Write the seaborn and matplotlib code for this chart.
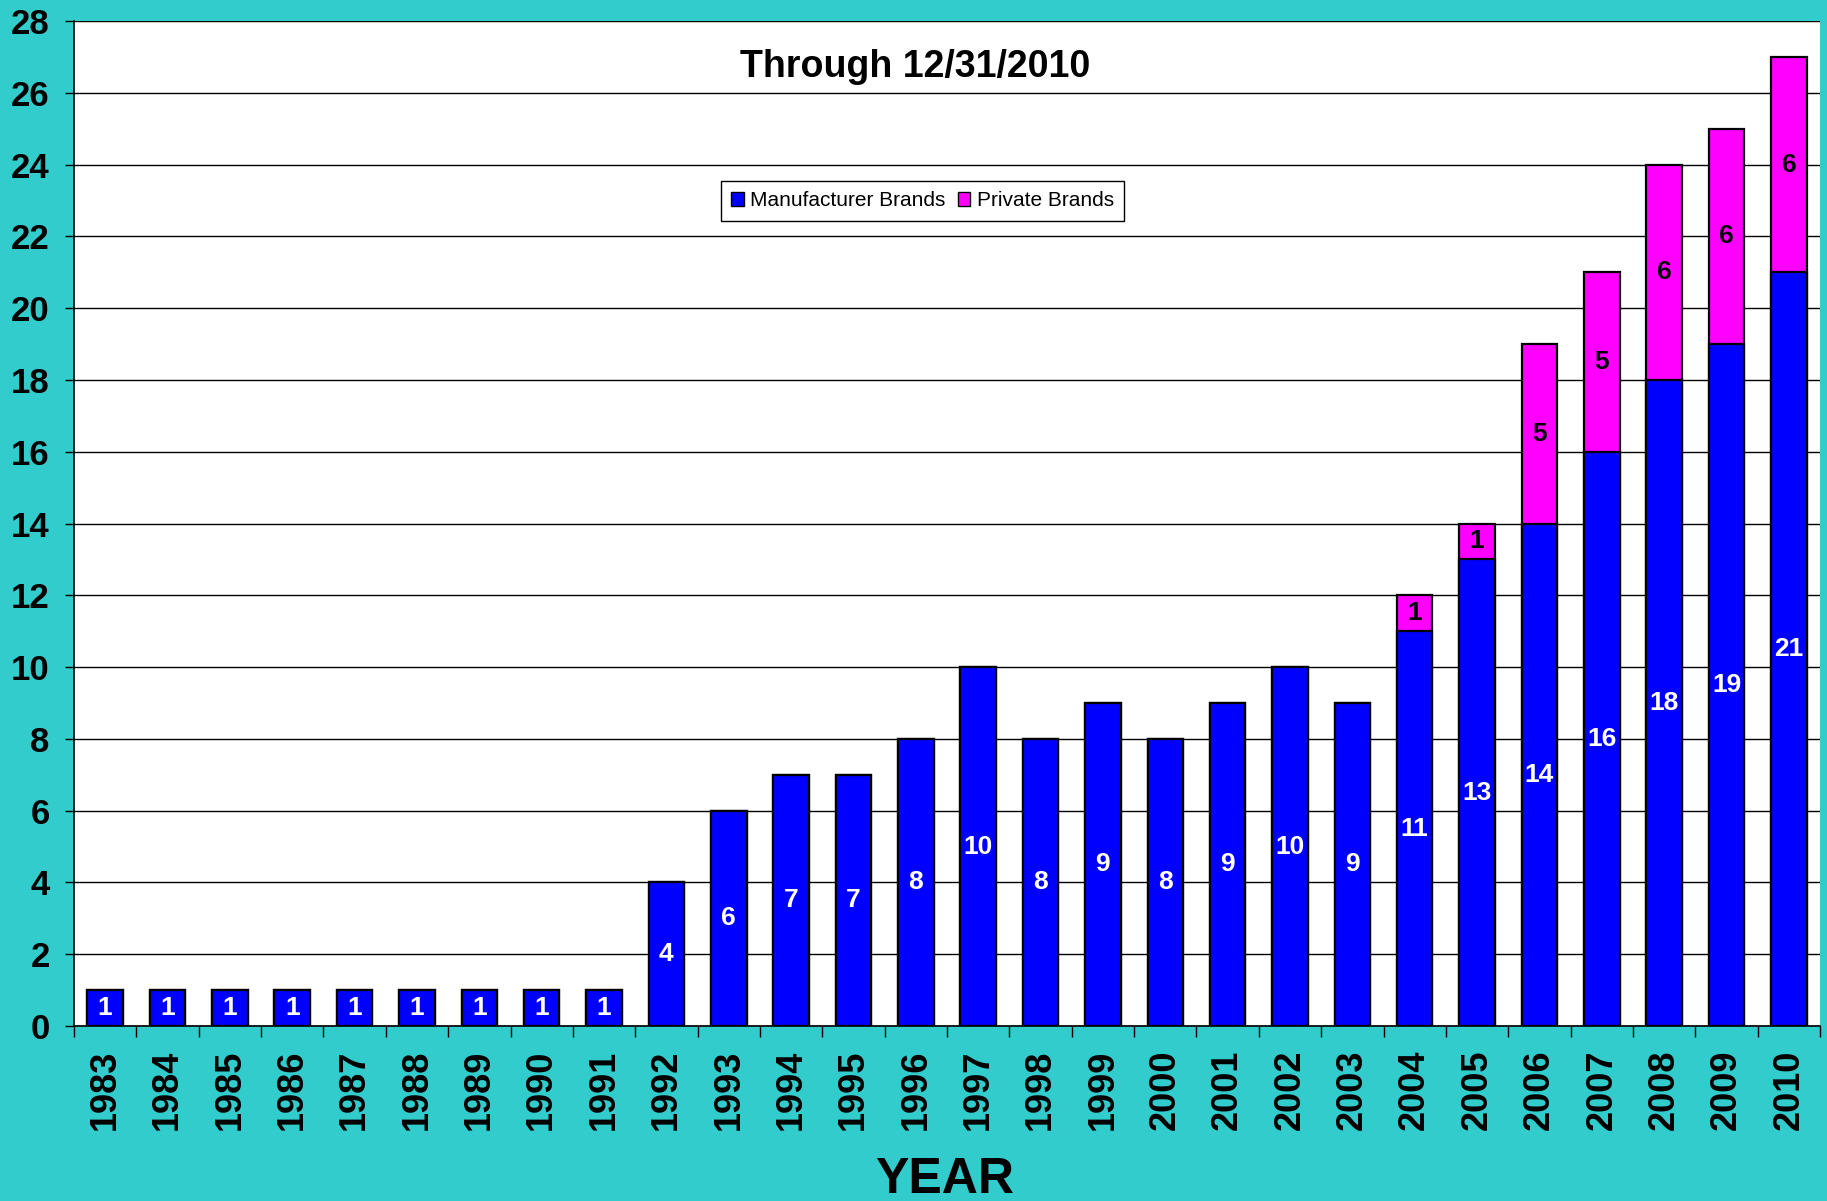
import numpy as np
import pandas as pd
import matplotlib
matplotlib.use("Agg")
import matplotlib.pyplot as plt
from matplotlib import font_manager
from matplotlib.patches import Patch
import seaborn as sns

# chart data
years = list(range(1983, 2011))
manufacturer = [1, 1, 1, 1, 1, 1, 1, 1, 1, 4, 6, 7, 7, 8, 10, 8, 9, 8, 9, 10,
                9, 11, 13, 14, 16, 18, 19, 21]
private = [0, 0, 0, 0, 0, 0, 0, 0, 0, 0, 0, 0, 0, 0, 0, 0, 0, 0, 0, 0,
           0, 1, 1, 5, 5, 6, 6, 6]
series_names = ['Manufacturer Brands', 'Private Brands']
y_ticks = list(range(0, 29, 2))

TEAL = '#33CCCC'
BLUE = '#0000FF'
MAGENTA = '#FF00FF'

sns.set_style('white')
available = {f.name for f in font_manager.fontManager.ttflist}
if 'Liberation Sans Narrow' in available:
    FONT = 'Liberation Sans Narrow'
    sizes = dict(ytick=27, xtick=28, value=20, title=30, legend=17.5, year=40)
else:
    # regular width fallback: shrink a little so the text keeps its extent
    FONT = 'Liberation Sans'
    sizes = dict(ytick=25, xtick=26, value=19, title=27, legend=15, year=36)

plt.rcParams['font.family'] = [FONT, 'DejaVu Sans']
plt.rcParams['text.color'] = 'black'
plt.rcParams['xtick.color'] = 'black'
plt.rcParams['ytick.color'] = 'black'

df = pd.DataFrame({'Year': [str(y) for y in years],
                   'Manufacturer': manufacturer,
                   'Private': private})
df['Total'] = df['Manufacturer'] + df['Private']

fig = plt.figure(figsize=(18.27, 12.01), dpi=100, facecolor=TEAL)
ax = fig.add_axes([0.0405, 0.1457, 0.9557, 0.8368])
ax.set_facecolor('white')

# stacked look: total in magenta, manufacturer drawn over it in blue
sns.barplot(data=df, x='Year', y='Total', color=MAGENTA, saturation=1,
            width=0.57, edgecolor='black', linewidth=1.6, ax=ax, zorder=3)
sns.barplot(data=df, x='Year', y='Manufacturer', color=BLUE, saturation=1,
            width=0.57, edgecolor='black', linewidth=1.6, ax=ax, zorder=4)

# segment labels
for i, (m, p) in enumerate(zip(df['Manufacturer'], df['Private'])):
    ax.text(i, m / 2, str(m), ha='center', va='center', color='white',
            fontsize=sizes['value'], fontweight='bold', zorder=5)
    if p:
        ax.text(i, m + p / 2, str(p), ha='center', va='center', color='black',
                fontsize=sizes['value'], fontweight='bold', zorder=5)

ax.set_xlim(-0.5, len(years) - 0.5)
ax.set_ylim(0, 28)
ax.set_yticks(y_ticks)
ax.set_yticklabels([str(t) for t in y_ticks], fontsize=sizes['ytick'],
                   fontweight='bold', color='black')
ax.tick_params(axis='y', direction='out', length=6.5, width=1, pad=11,
               left=True, color='black')

ax.set_xticks(range(len(years)))
ax.set_xticklabels([str(y) for y in years], rotation=90, fontsize=sizes['xtick'],
                   fontweight='bold', color='black')
ax.tick_params(axis='x', which='major', length=0, pad=17)
ax.set_xticks(np.arange(-0.5, len(years), 1), minor=True)
ax.tick_params(axis='x', which='minor', direction='out', length=8, width=1,
               bottom=True, color='black')

ax.set_xlabel('')
ax.set_ylabel('')
ax.yaxis.grid(True, color='black', linewidth=1)
ax.set_axisbelow(True)
for side in ['top', 'right']:
    ax.spines[side].set_visible(False)
for side in ['left', 'bottom']:
    ax.spines[side].set_color('black')
    ax.spines[side].set_linewidth(1.2)

ax.text(0.482, 0.954, 'Through 12/31/2010', transform=ax.transAxes,
        ha='center', va='center', fontsize=sizes['title'], fontweight='bold',
        color='black')

handles = [Patch(facecolor=BLUE, edgecolor='black', linewidth=1),
           Patch(facecolor=MAGENTA, edgecolor='black', linewidth=1)]
leg = ax.legend(handles, series_names, loc='center', bbox_to_anchor=(0.486, 0.821),
                ncol=2, fontsize=sizes['legend'], frameon=True, fancybox=False,
                shadow=False, handlelength=0.6, handleheight=0.6,
                handletextpad=0.3, columnspacing=0.6, borderpad=0.5,
                borderaxespad=0)
leg.get_frame().set_edgecolor('black')
leg.get_frame().set_linewidth(1)
leg.get_frame().set_alpha(1)
leg.set_zorder(6)
for t in leg.get_texts():
    t.set_color('black')

fig.text(0.517, 0.007, 'YEAR', ha='center', va='baseline',
         fontsize=sizes['year'], fontweight='bold', color='black')

fig.savefig('out.png', dpi=100, facecolor=TEAL)
